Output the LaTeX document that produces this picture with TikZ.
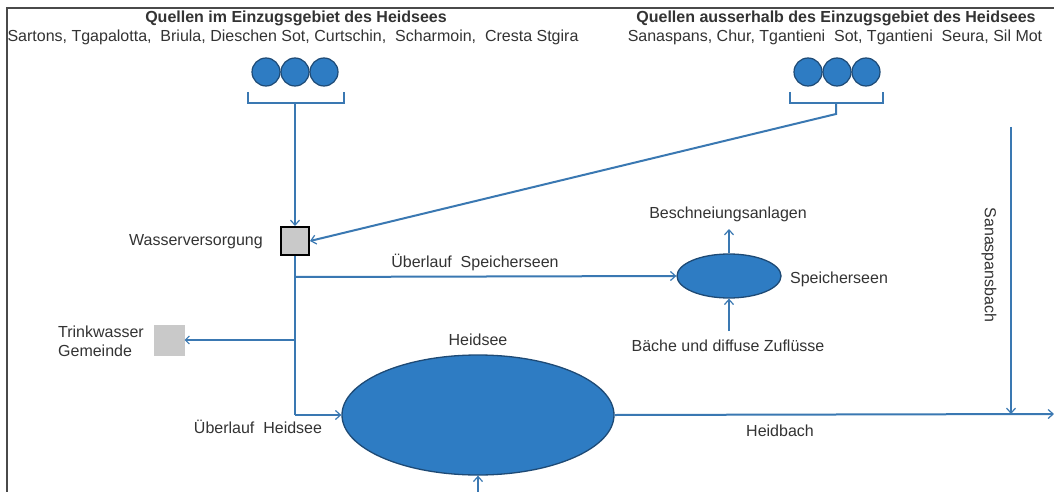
\documentclass[tikz,border=0pt]{standalone}
\usepackage{fontspec}
\setmainfont{Liberation Sans}
\usetikzlibrary{arrows.meta,shapes.geometric}
\definecolor{flow}{HTML}{3A78B2}
\definecolor{lakefill}{HTML}{2E7CC3}
\definecolor{lakeedge}{HTML}{1E4A75}
\definecolor{txt}{HTML}{333333}
\definecolor{boxgray}{HTML}{C9C9C9}
\definecolor{frame}{HTML}{4A4A4A}
\tikzset{
  flowline/.style={draw=flow, line width=2pt},
  flowarrow/.style={flowline, -{Straight Barb[length=5pt,width=9pt,line width=1.2pt]}},
  lake/.style={ellipse, draw=lakeedge, line width=1.3pt, fill=lakefill, inner sep=0pt},
  spring/.style={circle, draw=lakeedge, line width=1.2pt, fill=lakefill, minimum size=28pt, inner sep=0pt},
  lbl/.style={text=txt, font=\fontsize{16}{19}\selectfont, inner sep=0pt},
  title/.style={text=txt, font=\bfseries\fontsize{16}{19}\selectfont, inner sep=0pt},
  bracket/.style={draw=flow, line width=1.6pt},
}
\begin{document}
\begin{tikzpicture}[x=1pt,y=-1pt]
\useasboundingbox (0,0) rectangle (1054,492);
\fill[white] (0,0) rectangle (1054,492);
% frame
\draw[frame, line width=1.4pt] (7,492) -- (7,8) -- (1054,8);

% titles
\node[title] (t1) at (296,18) {Quellen im Einzugsgebiet des Heidsees};
\node[lbl] (s1) at (293,37) {Sartons, Tgapalotta,\ \ Briula, Dieschen Sot, Curtschin,\ \ Scharmoin,\ \ Cresta Stgira};
\node[title] (t2) at (836,18) {Quellen ausserhalb des Einzugsgebiet des Heidsees};
\node[lbl] (s2) at (835,37) {Sanaspans, Chur, Tgantieni\ \ Sot, Tgantieni\ \ Seura, Sil Mot};

% springs left
\node[spring] (c1) at (266,72) {};
\node[spring] (c2) at (295,72) {};
\node[spring] (c3) at (324,72) {};
\draw[bracket] (248,92) -- (248,103) -- (344,103) -- (344,92);
\coordinate (bl) at (295,103);
% springs right
\node[spring] (c4) at (808,72) {};
\node[spring] (c5) at (837,72) {};
\node[spring] (c6) at (866,72) {};
\draw[bracket] (790,92) -- (790,103) -- (883,103) -- (883,92);
\coordinate (br) at (836,103);
\coordinate (brd) at (836,114);

% water supply
\node[draw=black, line width=2pt, fill=boxgray, minimum size=28pt, inner sep=0pt] (ws) at (295,241) {};
\node[lbl, anchor=east] (wsl) at (263,242) {Wasserversorgung};

\draw[flowarrow] (bl) -- (ws.north);
\draw[flowarrow] (br) -- (brd) -- (ws.east);

% Speicherseen
\node[lake, minimum width=104pt, minimum height=44pt] (sp) at (729,276) {};
\node[lbl] (spl) at (839,279) {Speicherseen};
\node[lbl] (be) at (728,214) {Beschneiungsanlagen};
\node[lbl] (ba) at (728,346) {Bäche und diffuse Zuflüsse};
\coordinate (beA) at (729,229);
\coordinate (baA) at (729,331);
\draw[flowarrow] (sp.north) -- (beA);
\draw[flowarrow] (baA) -- (sp.south);

% Heidsee
\node[lake, minimum width=272pt, minimum height=120pt] (hs) at (478,415) {};
\node[lbl] (hsl) at (478,340) {Heidsee};

% main vertical distribution
\coordinate (j1) at (295,277);
\coordinate (j2) at (295,340);
\coordinate (j3) at (295,415);
\draw[flowline] (ws.south) -- (j3);
\draw[flowarrow] (j3) -- (hs.west);
\draw[flowarrow] (j1) -- (sp.west);
\node[lbl] (usl) at (475,262) {Überlauf\ \ Speicherseen};
\node[lbl] (uhl) at (258,427) {Überlauf\ \ Heidsee};

% Trinkwasser
\node[fill=boxgray, minimum size=31pt, inner sep=0pt] (tw) at (169,340) {};
\draw[flowline, line width=1.4pt, -{Straight Barb[length=4pt,width=8pt,line width=1pt]}] (j2) -- (tw.east);
\node[lbl, align=left, anchor=east] (twl) at (144,341) {Trinkwasser\\Gemeinde};

% Heidbach
\coordinate (hbE) at (1054,414);
\coordinate (sb) at (1011,414);
\draw[flowarrow] (hs.east) -- (hbE);
\node[lbl] (hbl) at (780,431) {Heidbach};

% Sanaspansbach
\coordinate (sbT) at (1011,127);
\draw[flowarrow] (sbT) -- (sb);
\node[lbl, rotate=-90] (sbl) at (989,265) {Sanaspansbach};

% bottom inflow
\coordinate (bin) at (478,492);
\draw[flowarrow] (bin) -- (hs.south);
\end{tikzpicture}
\end{document}
